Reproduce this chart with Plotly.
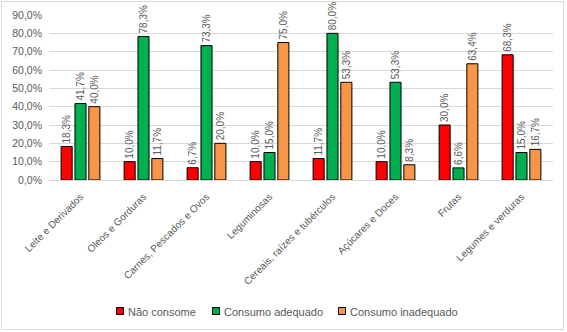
import plotly.graph_objects as go

categories = ["Leite e Derivados", "Oleos e Gorduras", "Carnes, Pescados e Ovos",
              "Leguminosas", "Cereais, raízes e tubérculos", "Açúcares e Doces",
              "Frutas", "Legumes e verduras"]
nao_consome = [18.3, 10.0, 6.7, 10.0, 11.7, 10.0, 30.0, 68.3]
consumo_adequado = [41.7, 78.3, 73.3, 15.0, 80.0, 53.3, 6.6, 15.0]
consumo_inadequado = [40.0, 11.7, 20.0, 75.0, 53.3, 8.3, 63.4, 16.7]
y_ticks = [0, 10, 20, 30, 40, 50, 60, 70, 80, 90]

series = [
    ("Não consome", nao_consome, "#FF0000"),
    ("Consumo adequado", consumo_adequado, "#00B050"),
    ("Consumo inadequado", consumo_inadequado, "#F79646"),
]

FONT = "Liberation Sans"
GRAY = "#595959"

fig = go.Figure()
for name, vals, color in series:
    fig.add_trace(go.Bar(
        x=categories, y=vals, name=name, showlegend=False,
        marker=dict(color=color, line=dict(color="#000000", width=1)),
        texttemplate="%{y:.1f}%", textposition="outside", textangle=-90,
        textfont=dict(family=FONT, size=10, color=GRAY),
        constraintext="none", cliponaxis=False,
    ))

W, H = 567, 332
L, R, T, B = 49, 14, 15, 152
pw, ph = W - L - R, H - T - B

def px(x):
    return (x - L) / pw

def py(y):
    return (H - B - y) / ph

# manual legend (Excel-like compact legend)
legend_x = [116, 212, 338]
shapes = [dict(type="rect", xref="paper", yref="paper",
               x0=px(1.5), x1=px(563.5), y0=py(329.5), y1=py(1.5),
               line=dict(color="#D9D9D9", width=1), fillcolor="rgba(0,0,0,0)",
               layer="below")]
annotations = []
for (name, _, color), lx in zip(series, legend_x):
    shapes.append(dict(type="rect", xref="paper", yref="paper",
                       x0=px(lx + 0.5), x1=px(lx + 7.5), y0=py(314.5), y1=py(307.5),
                       line=dict(color="#000000", width=1), fillcolor=color))
    annotations.append(dict(xref="paper", yref="paper", x=px(lx + 10), y=py(311.5),
                            xanchor="left", yanchor="middle", showarrow=False,
                            text=name, font=dict(family=FONT, size=11, color=GRAY)))

fig.update_layout(
    width=W, height=H,
    margin=dict(l=L, r=R, t=T, b=B, autoexpand=False),
    paper_bgcolor="white", plot_bgcolor="white",
    separators=",.",
    barmode="group", bargap=0.34, bargroupgap=0.2,
    showlegend=False,
    font=dict(family=FONT, size=10, color=GRAY),
    xaxis=dict(tickangle=-45, tickfont=dict(family=FONT, size=10, color=GRAY),
               showline=False, ticks="", showgrid=False, automargin=False,
               ticklabelstandoff=8),
    yaxis=dict(range=[0, 90], tickvals=y_ticks,
               ticktext=[f"{v:.1f}%".replace(".", ",") for v in y_ticks],
               showgrid=True, gridcolor="#D9D9D9", gridwidth=1,
               zeroline=True, zerolinecolor="#D9D9D9", zerolinewidth=1,
               tickfont=dict(family=FONT, size=10.5, color=GRAY), ticks="",
               automargin=False, ticklabelstandoff=6),
    shapes=shapes,
    annotations=annotations,
)

fig.write_html("out.html", post_script="document.body.style.margin='0';",
               config={"displayModeBar": False})
